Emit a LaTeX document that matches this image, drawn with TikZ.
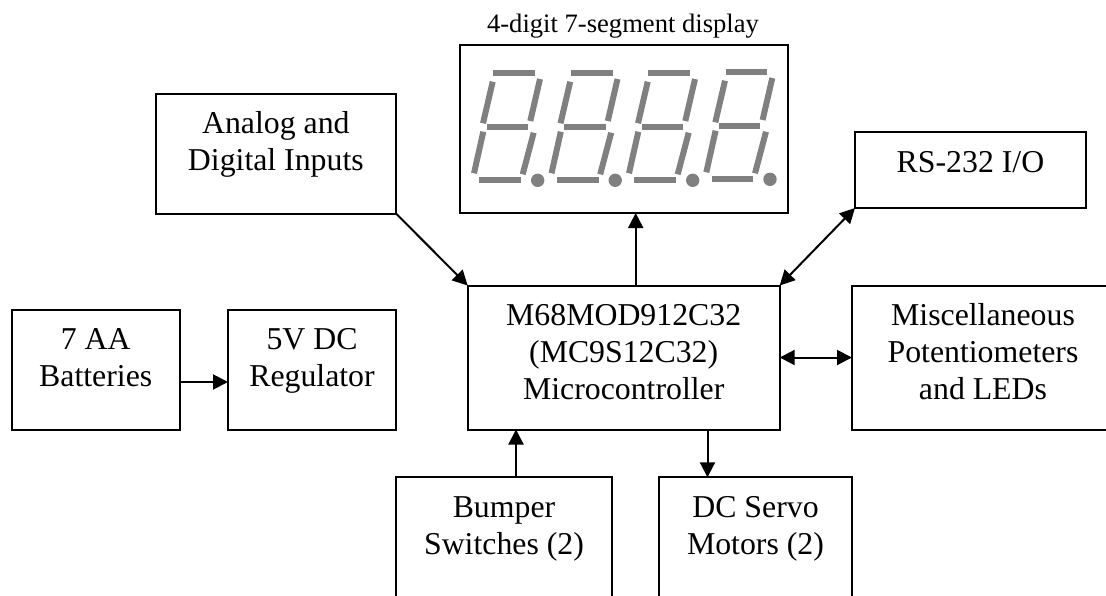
\documentclass[tikz,border=0pt]{standalone}
\usepackage{fontspec}
\setmainfont{Liberation Serif}
\usetikzlibrary{arrows.meta}
\newcommand{\blocktext}[3]{\parbox[c][#2pt][t]{#1pt}{\centering\rule{0pt}{40pt}#3}}
\definecolor{segcolor}{HTML}{808080}
\tikzset{
  blockbox/.style={draw,line width=2pt,inner sep=0pt,outer sep=0pt,anchor=north west,
    font=\fontsize{31.8}{36.8}\selectfont},
  link/.style={line width=2pt},
  segment/.style={draw=segcolor,line width=6pt},
}
\begin{document}
\begin{tikzpicture}[x=1pt,y=-1pt,>={Triangle[length=15pt,width=15pt]}]
\useasboundingbox (0,0) rectangle (1106,595);

% The blocks
\node[blockbox] (battery) at (11.5,309.5) {\blocktext{168.5}{120}{7 AA\\Batteries}};
\node[blockbox] (regulator) at (228,309.5) {\blocktext{168}{120}{5V DC\\Regulator}};
\node[blockbox] (inputs) at (155.7,93.5) {\blocktext{240.3}{120}{Analog and\\Digital Inputs}};
\node[blockbox] (display) at (459.7,45) {\blocktext{328.3}{168}{}};
\node[blockbox] (serial) at (855,132) {\blocktext{231}{76}{RS-232 I/O}};
\node[blockbox] (mcu) at (467.7,285.5) {\blocktext{312}{144}{M68MOD912C32\\(MC9S12C32)\\Microcontroller}};
\node[blockbox] (misc) at (852,285.5) {\blocktext{262}{144}{Miscellaneous\\Potentiometers\\and LEDs}};
\node[blockbox] (bumper) at (396,477.3) {\blocktext{216}{140}{Bumper\\Switches (2)}};
\node[blockbox] (servo) at (659.3,477.3) {\blocktext{192.4}{140}{DC Servo\\Motors (2)}};
\node[anchor=base,inner sep=0pt,font=\fontsize{26.6}{30}\selectfont] (displaytitle) at (623,32) {4-digit 7-segment display};

% The connectors
\draw[->,link] ([yshift=-12.5pt]battery.east) -- ([yshift=-12.5pt]battery.east -| regulator.west);
\draw[->,link] (inputs.south east) -- (mcu.north west);
\draw[->,link] ([xshift=12pt]mcu.north) -- ([xshift=12pt]mcu.north |- display.south);
\draw[<->,link] (mcu.north east) -- (serial.south west);
\draw[<->,link] (mcu.east) -- (misc.west);
\draw[->,link] ([xshift=12pt]bumper.north) -- ([xshift=12pt]bumper.north |- mcu.south);
\draw[->,link] ([xshift=-48pt]servo.north |- mcu.south) -- ([xshift=-48pt]servo.north);

% The digits
\foreach \dx/\dy in {0/0,77.5/0,155/0,232.3/-1} {
  \begin{scope}[shift={(\dx,\dy)}]
    \draw[segment] (493.3,73.3) -- (535,73.3);
    \draw[segment] (492.7,81.7) -- (483,123.3);
    \draw[segment] (540,79) -- (530.3,121);
    \draw[segment] (486.7,127.3) -- (528,127.3);
    \draw[segment] (483.3,131.7) -- (474,173.3);
    \draw[segment] (533.7,132.7) -- (522.7,174.3);
    \draw[segment] (479.3,180.3) -- (521,180.3);
    \fill[segcolor] (537.7,180.3) circle (6.7);
  \end{scope}
}
\end{tikzpicture}
\end{document}
